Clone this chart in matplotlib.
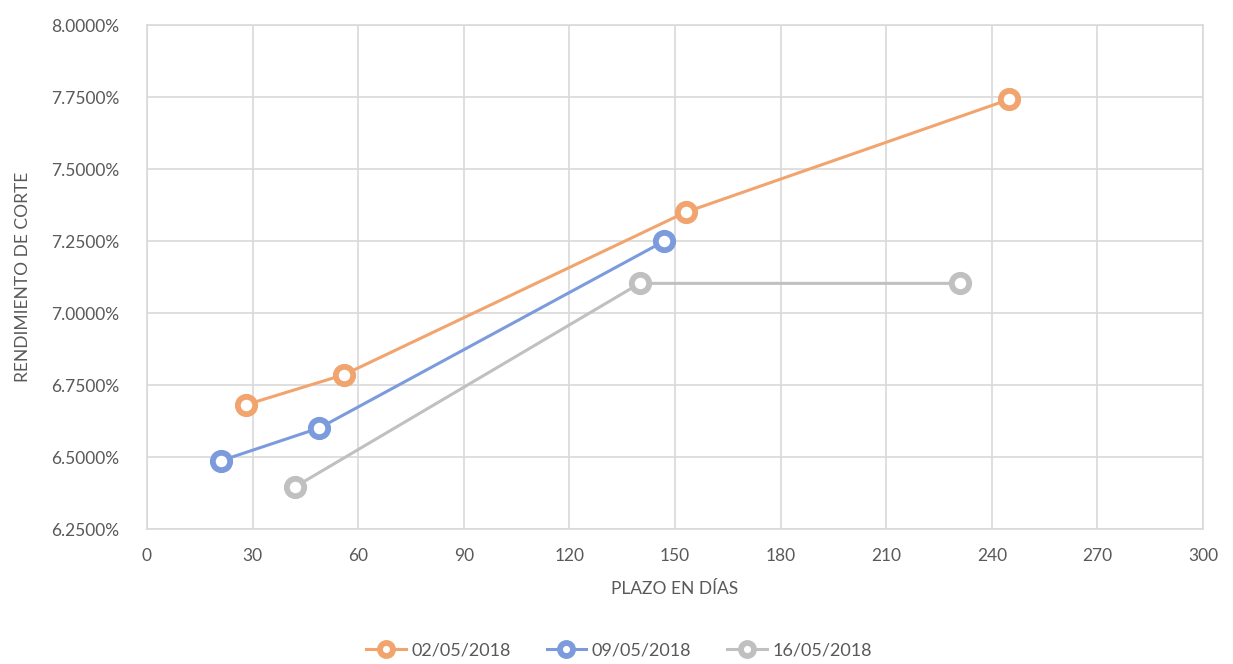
import numpy as np
from matplotlib import pyplot as plt
from matplotlib.ticker import FuncFormatter, MultipleLocator

# dias / rendimiento (%)
dias_0205 = [28, 56, 153, 245]
rend_0205 = [6.681, 6.786, 7.350, 7.742]
dias_0905 = [21, 49, 147]
rend_0905 = [6.487, 6.601, 7.250]
dias_1605 = [42, 140, 231]
rend_1605 = [6.396, 7.103, 7.103]

series = [
    ('02/05/2018', dias_0205, rend_0205, '#F2A46E'),
    ('09/05/2018', dias_0905, rend_0905, '#7C9BDC'),
    ('16/05/2018', dias_1605, rend_1605, '#C0C0C0'),
]

plt.rcParams['font.family'] = ['Lato', 'DejaVu Sans']
txt = '#595959'

fig = plt.figure(figsize=(12.33, 6.64), dpi=100)
ax = fig.add_axes([0.1192, 0.2033, 0.8565, 0.759])

for name, x, y, c in series:
    ax.plot(x, y, color=c, lw=2.2, marker='o', ms=12.5, mew=4.2,
            mfc='white', mec=c, label=name, zorder=3)

ax.set_xlim(0, 300)
ax.set_ylim(6.25, 8.0)
ax.xaxis.set_major_locator(MultipleLocator(30))
ax.yaxis.set_major_locator(MultipleLocator(0.25))
ax.yaxis.set_major_formatter(FuncFormatter(lambda v, p: '%.4f%%' % v))
ax.grid(True, color='#D9D9D9', lw=1.2)
ax.set_axisbelow(True)
for s in ax.spines.values():
    s.set_color('#D9D9D9')
    s.set_linewidth(1.2)
ax.tick_params(length=0, labelsize=12.5, colors=txt, pad=14)
ax.tick_params(axis='y', pad=20)

ax.set_xlabel('PLAZO EN DÍAS', fontsize=12.5, color=txt, labelpad=12)
ax.set_ylabel('RENDIMIENTO DE CORTE', fontsize=12.5, color=txt, labelpad=14)

fig.legend(*ax.get_legend_handles_labels(), loc='center',
           bbox_to_anchor=(0.502, 0.02), ncol=3, frameon=False,
           fontsize=13, labelcolor=txt, handlelength=2.2, handletextpad=0.3,
           columnspacing=2.0, markerscale=0.75)

plt.savefig('out.png', dpi=100)
